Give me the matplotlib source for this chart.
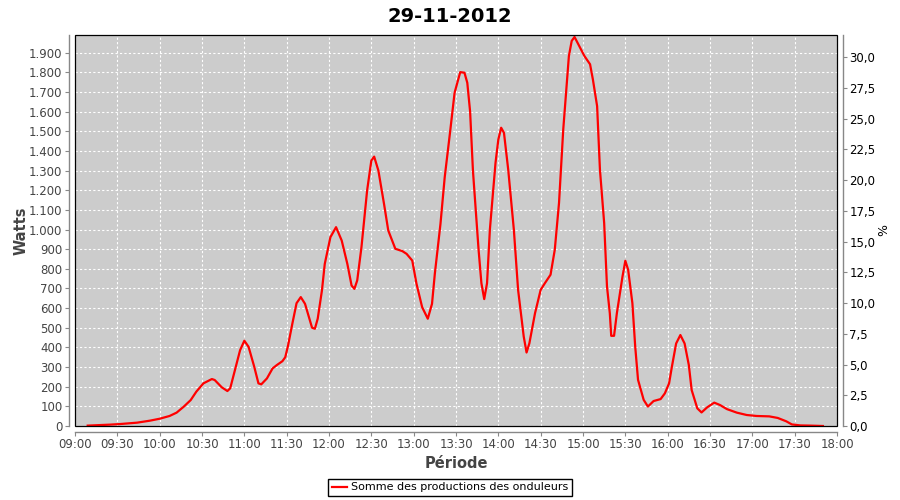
import matplotlib
matplotlib.use("Agg")
import matplotlib.pyplot as plt
import matplotlib.dates as mdates
import matplotlib.ticker as ticker
from matplotlib.patches import Rectangle
from matplotlib.lines import Line2D
import pandas as pd


title = "29-11-2012"
series_name = "Somme des productions des onduleurs"

times = ["09:09", "09:25", "09:32", "09:44", "09:53", "10:00", "10:07", "10:12", "10:17", "10:22",
         "10:26", "10:31", "10:37", "10:39", "10:44", "10:48", "10:50", "10:54", "10:57", "11:00",
         "11:03", "11:07", "11:10", "11:12", "11:16", "11:20", "11:23", "11:27", "11:29", "11:31",
         "11:34", "11:37", "11:40", "11:43", "11:48", "11:50", "11:52", "11:55", "11:57", "12:01",
         "12:05", "12:09", "12:13", "12:16", "12:18", "12:20", "12:23", "12:27", "12:30", "12:32",
         "12:35", "12:39", "12:42", "12:47", "12:52", "12:55", "12:59", "13:02", "13:06", "13:10",
         "13:13", "13:15", "13:19", "13:22", "13:26", "13:29", "13:33", "13:36", "13:38", "13:40",
         "13:42", "13:44", "13:46", "13:48", "13:50", "13:52", "13:54", "13:58", "14:00", "14:02",
         "14:04", "14:07", "14:11", "14:14", "14:18", "14:20", "14:22", "14:26", "14:30", "14:33",
         "14:37", "14:40", "14:43", "14:46", "14:50", "14:52", "14:54", "14:58", "15:01", "15:05",
         "15:07", "15:10", "15:12", "15:15", "15:17", "15:19", "15:20", "15:22", "15:24", "15:28",
         "15:30", "15:32", "15:35", "15:37", "15:39", "15:43", "15:46", "15:50", "15:55", "15:58",
         "16:01", "16:03", "16:06", "16:09", "16:12", "16:15", "16:17", "16:21", "16:24", "16:28",
         "16:33", "16:37", "16:42", "16:49", "16:56", "17:03", "17:12", "17:18", "17:24", "17:28",
         "17:34", "17:41", "17:50"]

watts = [2, 7, 10, 17, 27, 37, 51, 68, 98, 132,
         175, 217, 239, 234, 197, 178, 192, 302, 386, 434,
         403, 302, 217, 212, 242, 293, 310, 330, 350, 410,
         520, 625, 656, 622, 500, 495, 546, 690, 825, 961,
         1012, 944, 825, 715, 698, 741, 910, 1198, 1351, 1371,
         1300, 1130, 995, 902, 890, 876, 842, 724, 605, 546,
         622, 775, 1029, 1266, 1508, 1696, 1801, 1798, 1747, 1600,
         1300, 1100, 897, 727, 646, 727, 999, 1339, 1458, 1518,
         1492, 1305, 999, 693, 455, 374, 421, 574, 693, 727,
         770, 897, 1135, 1509, 1883, 1960, 1980, 1925, 1883, 1841,
         1764, 1628, 1305, 1033, 710, 574, 459, 459, 574, 761,
         841, 795, 625, 404, 235, 133, 99, 127, 137, 166,
         217, 302, 420, 463, 420, 310, 183, 90, 69, 95,
         119, 107, 86, 68, 56, 51, 49, 41, 24, 8,
         3, 2, 0]

watt_ticks = list(range(0, 2000, 100))
pct_ticks = [0, 2.5, 5, 7.5, 10, 12.5, 15, 17.5, 20, 22.5, 25, 27.5, 30]

day = "2012-11-29 "
x = pd.to_datetime([day + t for t in times])

plt.rcParams['font.family'] = ['DejaVu Sans']
fig = plt.figure(figsize=(9, 5), dpi=100)
ax = fig.add_axes([75 / 900, 1 - 426 / 500, 762 / 900, 391 / 500])
ax.set_facecolor("#cccccc")

ax.plot(x, watts, color="#ff0000", lw=1.6, zorder=3)

ax.set_xlim(pd.Timestamp(day + "09:00"), pd.Timestamp(day + "18:00"))
ax.set_ylim(0, 1990)
ax.xaxis.set_major_locator(mdates.MinuteLocator(byminute=[0, 30]))
ax.xaxis.set_major_formatter(mdates.DateFormatter("%H:%M"))
ax.set_yticks(watt_ticks)
ax.yaxis.set_major_formatter(ticker.FuncFormatter(lambda v, p: f"{int(v):,}".replace(",", ".")))

ax.grid(True, color="white", ls=(0, (2, 2)), lw=0.8)
ax.set_axisbelow(True)

# second axis for the %
ax2 = ax.twinx()
ax2.set_ylim(0, 31.8)
ax2.set_yticks(pct_ticks)
ax2.yaxis.set_major_formatter(ticker.FuncFormatter(lambda v, p: f"{v:.1f}".replace(".", ",")))

# axis lines offset from the plot area like jfreechart
for a in (ax, ax2):
    for s in a.spines.values():
        s.set_visible(False)
for side, a in (("left", ax), ("bottom", ax), ("right", ax2)):
    sp = a.spines[side]
    sp.set_visible(True)
    sp.set_position(("outward", 4))
    sp.set_color("#888888")
    sp.set_linewidth(1)

ax.add_patch(Rectangle((0, 0), 1, 1, transform=ax.transAxes, fill=False,
                       edgecolor="black", lw=0.9, zorder=5, clip_on=False))

ax.tick_params(axis="both", direction="out", length=3, width=0.8, color="#888888",
               labelsize=8.5, labelcolor="#444444", pad=2)
ax2.tick_params(axis="y", direction="out", length=3, width=0.8, color="#888888",
                labelsize=8.5, labelcolor="#000000", pad=2)

ax.set_ylabel("Watts", fontsize=10.5, fontweight="bold", color="#444444", labelpad=0)
ax.set_xlabel("Période", fontsize=10.5, fontweight="bold", color="#444444", labelpad=3)
ax2.set_ylabel("%", fontsize=9, color="#000000", labelpad=1)

fig.suptitle(title, fontsize=14, fontweight="bold", y=0.985)

handle = Line2D([], [], color="#ff0000", lw=1.6)
leg = fig.legend([handle], [series_name], loc="lower center", bbox_to_anchor=(0.5, 0.003),
                 fancybox=False, edgecolor="black", framealpha=1, fontsize=8,
                 handlelength=1.4, handletextpad=0.3, borderpad=0.35, borderaxespad=0.2)
leg.get_frame().set_linewidth(1)

fig.savefig("out.png", dpi=100)
